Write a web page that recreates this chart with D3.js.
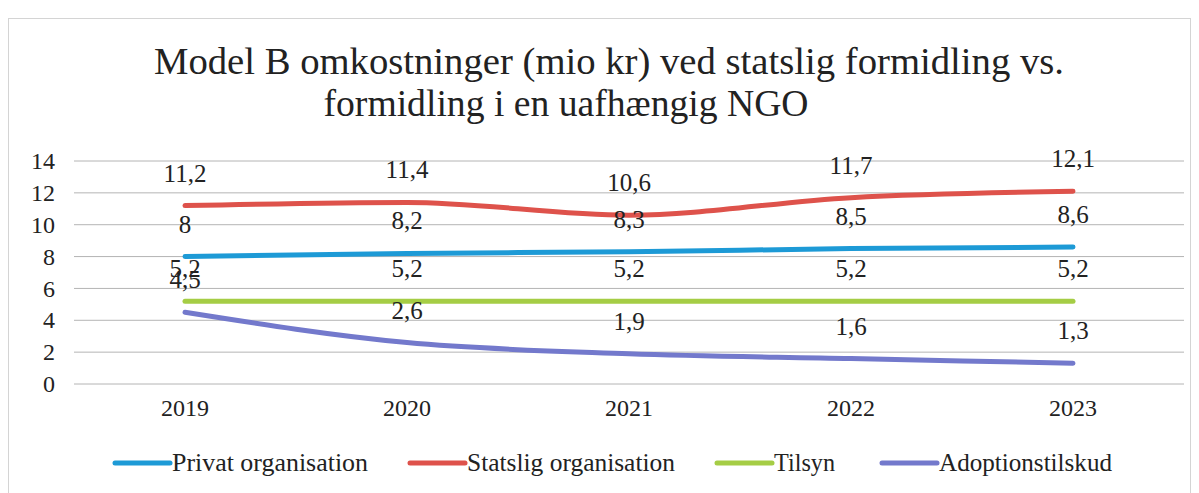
<!DOCTYPE html>
<html>
<head>
<meta charset="utf-8">
<script src="https://cdn.jsdelivr.net/npm/d3@7"></script>
<style>
  body { margin: 0; background: #fff; }
</style>
</head>
<body>
<div id="chart"></div>
<script>
const years = ['2019', '2020', '2021', '2022', '2023']
const seriesNames = ['Privat organisation', 'Statslig organisation', 'Tilsyn', 'Adoptionstilskud']
const privat = [8, 8.2, 8.3, 8.5, 8.6]
const statslig = [11.2, 11.4, 10.6, 11.7, 12.1]
const tilsyn = [5.2, 5.2, 5.2, 5.2, 5.2]
const adoption = [4.5, 2.6, 1.9, 1.6, 1.3]
const yTicks = [0, 2, 4, 6, 8, 10, 12, 14]
const colors = ['#1d9ad6', '#de524b', '#a5cd45', '#7379cc']

const series = [privat, statslig, tilsyn, adoption].map((values, i) => ({
  name: seriesNames[i], values, color: colors[i]
}))

const W = 1199, H = 493
const margin = { top: 161, right: 15, bottom: 109, left: 74 }
const serif = '"Liberation Serif", "DejaVu Serif", serif'

const svg = d3.select('#chart').append('svg')
  .attr('width', W)
  .attr('height', H)
  .style('font-family', serif)

// faint frame of the scanned chart
svg.append('rect')
  .attr('x', 8.5).attr('y', 18.5)
  .attr('width', W - 17).attr('height', H - 12)
  .attr('fill', 'none')
  .attr('stroke', '#d4d4d4')

const xScale = d3.scaleBand()
  .domain(years)
  .range([margin.left, W - margin.right])

const yScale = d3.scaleLinear()
  .domain([0, 14])
  .range([H - margin.bottom, margin.top])

// title
const title = svg.append('g').attr('text-anchor', 'middle').attr('fill', '#222')
title.append('text')
  .attr('x', 609).attr('y', 74)
  .attr('font-size', 37)
  .attr('textLength', 910).attr('lengthAdjust', 'spacingAndGlyphs')
  .text('Model B omkostninger (mio kr) ved statslig formidling vs.')
title.append('text')
  .attr('x', 566).attr('y', 116)
  .attr('font-size', 37)
  .attr('textLength', 485).attr('lengthAdjust', 'spacingAndGlyphs')
  .text('formidling i en uafhængig NGO')

// gridlines
svg.append('g').classed('grid', true)
  .selectAll('line')
  .data(yTicks).enter()
  .append('line')
  .attr('x1', margin.left).attr('x2', W - margin.right)
  .attr('y1', d => yScale(d)).attr('y2', d => yScale(d))
  .attr('stroke', '#b4b4b4')
  .attr('stroke-width', 1)

const styleTicks = g => {
  g.select('.domain').remove()
  g.attr('font-family', null).attr('font-size', null)
  g.selectAll('text')
    .attr('font-size', 24)
    .attr('fill', '#222')
    .style('font-family', serif)
}

// y axis labels
const yAxis = d3.axisLeft(yScale).tickValues(yTicks).tickSize(0).tickPadding(19)
svg.append('g')
  .attr('transform', 'translate(' + margin.left + ', 0)')
  .call(yAxis)
  .call(styleTicks)

// x axis labels
const xAxis = d3.axisBottom(xScale).tickSize(0).tickPadding(15)
svg.append('g')
  .attr('transform', 'translate(0, ' + yScale(0) + ')')
  .call(xAxis)
  .call(styleTicks)

const xc = d => xScale(d) + xScale.bandwidth() / 2

const line = d3.line()
  .x((d, i) => xc(years[i]))
  .y(d => yScale(d))
  .curve(d3.curveMonotoneX)

svg.append('g').classed('lines', true)
  .selectAll('path')
  .data(series).enter()
  .append('path')
  .attr('d', d => line(d.values))
  .attr('fill', 'none')
  .attr('stroke', d => d.color)
  .attr('stroke-width', 5)
  .attr('stroke-linecap', 'round')

// data labels above points
const labels = svg.append('g').classed('labels', true)
  .attr('text-anchor', 'middle').attr('fill', '#222')
series.forEach(s => {
  labels.selectAll(null)
    .data(s.values).enter()
    .append('text')
    .attr('x', (d, i) => xc(years[i]))
    .attr('y', d => yScale(d) - 24)
    .attr('font-size', 25)
    .style('font-family', serif)
    .text(d => String(d).replace('.', ','))
})

// legend
const legendX = [115, 410, 717, 882]
const legendLen = [196, 208, 61, 173]
const legend = svg.append('g').classed('legend', true)
  .attr('transform', 'translate(0, 463)')
  .selectAll('g')
  .data(series).enter()
  .append('g')
  .attr('transform', (d, i) => 'translate(' + legendX[i] + ', 0)')
legend.append('line')
  .attr('x1', 0).attr('x2', 55)
  .attr('stroke', d => d.color)
  .attr('stroke-width', 5)
  .attr('stroke-linecap', 'round')
legend.append('text')
  .attr('x', 57).attr('y', 8)
  .attr('font-size', 25)
  .attr('textLength', (d, i) => legendLen[i]).attr('lengthAdjust', 'spacingAndGlyphs')
  .attr('fill', '#222')
  .style('font-family', serif)
  .text(d => d.name)
</script>
</body>
</html>
